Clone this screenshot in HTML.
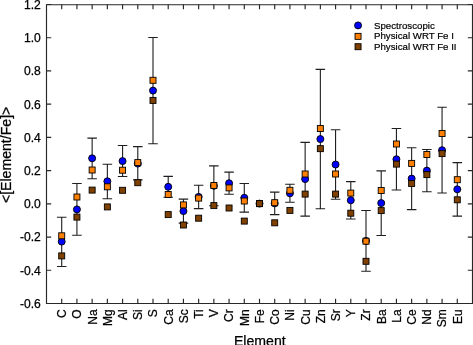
<!DOCTYPE html>
<html><head><meta charset="utf-8"><style>
html,body{margin:0;padding:0;background:#fff;}
body{width:473px;height:345px;overflow:hidden;font-family:"Liberation Sans", sans-serif;}
svg{display:block;will-change:transform;}
text{stroke:#000;stroke-width:0.25;}
.lg text{stroke-width:0.2;}
</style></head><body>
<svg width="473" height="345" viewBox="0 0 473 345">
<rect width="473" height="345" fill="#fff"/>
<g stroke="#1e1e1e" stroke-width="1.1" fill="none">
<path d="M61.71 217.30V266.50M56.96 217.30H66.46M56.96 266.50H66.46"/>
<path d="M76.93 183.50V235.20M72.18 183.50H81.68M72.18 235.20H81.68"/>
<path d="M92.14 138.10V178.70M87.39 138.10H96.89M87.39 178.70H96.89"/>
<path d="M107.36 164.20V198.70M102.61 164.20H112.11M102.61 198.70H112.11"/>
<path d="M122.57 145.50V176.50M117.82 145.50H127.32M117.82 176.50H127.32"/>
<path d="M137.79 146.60V179.90M133.04 146.60H142.54M133.04 179.90H142.54"/>
<path d="M153.00 37.50V143.80M148.25 37.50H157.75M148.25 143.80H157.75"/>
<path d="M168.21 176.40V197.20M163.46 176.40H172.96M163.46 197.20H172.96"/>
<path d="M183.43 199.10V223.10M178.68 199.10H188.18M178.68 223.10H188.18"/>
<path d="M198.64 185.20V208.60M193.89 185.20H203.39M193.89 208.60H203.39"/>
<path d="M213.86 165.90V205.70M209.11 165.90H218.61M209.11 205.70H218.61"/>
<path d="M229.07 172.10V194.30M224.32 172.10H233.82M224.32 194.30H233.82"/>
<path d="M244.29 183.50V212.10M239.54 183.50H249.04M239.54 212.10H249.04"/>
<path d="M274.71 192.10V214.60M269.96 192.10H279.46M269.96 214.60H279.46"/>
<path d="M289.93 184.30V202.30M285.18 184.30H294.68M285.18 202.30H294.68"/>
<path d="M305.14 142.40V216.10M300.39 142.40H309.89M300.39 216.10H309.89"/>
<path d="M320.36 69.40V208.70M315.61 69.40H325.11M315.61 208.70H325.11"/>
<path d="M335.57 129.80V199.20M330.82 129.80H340.32M330.82 199.20H340.32"/>
<path d="M350.79 181.60V219.00M346.04 181.60H355.54M346.04 219.00H355.54"/>
<path d="M366.00 210.50V271.30M361.25 210.50H370.75M361.25 271.30H370.75"/>
<path d="M381.21 170.90V235.50M376.46 170.90H385.96M376.46 235.50H385.96"/>
<path d="M396.43 128.50V190.00M391.68 128.50H401.18M391.68 190.00H401.18"/>
<path d="M411.64 147.70V209.60M406.89 147.70H416.39M406.89 209.60H416.39"/>
<path d="M426.86 149.50V191.75M422.11 149.50H431.61M422.11 191.75H431.61"/>
<path d="M442.07 107.30V193.00M437.32 107.30H446.82M437.32 193.00H446.82"/>
<path d="M457.29 162.60V216.10M452.54 162.60H462.04M452.54 216.10H462.04"/>
</g>
<g stroke="#000" stroke-width="0.9">
<circle cx="61.71" cy="241.60" r="3.5" fill="#0000ff"/>
<circle cx="76.93" cy="209.40" r="3.5" fill="#0000ff"/>
<circle cx="92.14" cy="158.30" r="3.5" fill="#0000ff"/>
<circle cx="107.36" cy="181.30" r="3.5" fill="#0000ff"/>
<circle cx="122.57" cy="161.10" r="3.5" fill="#0000ff"/>
<circle cx="137.79" cy="163.60" r="3.5" fill="#0000ff"/>
<circle cx="153.00" cy="90.60" r="3.5" fill="#0000ff"/>
<circle cx="168.21" cy="186.80" r="3.5" fill="#0000ff"/>
<circle cx="183.43" cy="211.10" r="3.5" fill="#0000ff"/>
<circle cx="198.64" cy="196.90" r="3.5" fill="#0000ff"/>
<circle cx="213.86" cy="185.80" r="3.5" fill="#0000ff"/>
<circle cx="229.07" cy="183.20" r="3.5" fill="#0000ff"/>
<circle cx="244.29" cy="197.80" r="3.5" fill="#0000ff"/>
<circle cx="259.50" cy="203.60" r="3.5" fill="#0000ff"/>
<circle cx="274.71" cy="203.35" r="3.5" fill="#0000ff"/>
<circle cx="289.93" cy="193.30" r="3.5" fill="#0000ff"/>
<circle cx="305.14" cy="179.10" r="3.5" fill="#0000ff"/>
<circle cx="320.36" cy="139.05" r="3.5" fill="#0000ff"/>
<circle cx="335.57" cy="164.50" r="3.5" fill="#0000ff"/>
<circle cx="350.79" cy="200.30" r="3.5" fill="#0000ff"/>
<circle cx="366.00" cy="240.90" r="3.5" fill="#0000ff"/>
<circle cx="381.21" cy="203.10" r="3.5" fill="#0000ff"/>
<circle cx="396.43" cy="159.25" r="3.5" fill="#0000ff"/>
<circle cx="411.64" cy="178.60" r="3.5" fill="#0000ff"/>
<circle cx="426.86" cy="170.60" r="3.5" fill="#0000ff"/>
<circle cx="442.07" cy="150.20" r="3.5" fill="#0000ff"/>
<circle cx="457.29" cy="189.30" r="3.5" fill="#0000ff"/>
<rect x="58.71" y="232.80" width="6.0" height="6.0" fill="#ff8000"/>
<rect x="73.93" y="194.00" width="6.0" height="6.0" fill="#ff8000"/>
<rect x="89.14" y="167.00" width="6.0" height="6.0" fill="#ff8000"/>
<rect x="104.36" y="183.80" width="6.0" height="6.0" fill="#ff8000"/>
<rect x="119.57" y="167.20" width="6.0" height="6.0" fill="#ff8000"/>
<rect x="134.79" y="159.60" width="6.0" height="6.0" fill="#ff8000"/>
<rect x="150.00" y="77.30" width="6.0" height="6.0" fill="#ff8000"/>
<rect x="165.21" y="191.50" width="6.0" height="6.0" fill="#ff8000"/>
<rect x="180.43" y="201.90" width="6.0" height="6.0" fill="#ff8000"/>
<rect x="195.64" y="195.10" width="6.0" height="6.0" fill="#ff8000"/>
<rect x="210.86" y="182.50" width="6.0" height="6.0" fill="#ff8000"/>
<rect x="226.07" y="184.90" width="6.0" height="6.0" fill="#ff8000"/>
<rect x="241.29" y="198.00" width="6.0" height="6.0" fill="#ff8000"/>
<rect x="256.50" y="200.60" width="6.0" height="6.0" fill="#ff8000"/>
<rect x="271.71" y="199.70" width="6.0" height="6.0" fill="#ff8000"/>
<rect x="286.93" y="187.30" width="6.0" height="6.0" fill="#ff8000"/>
<rect x="302.14" y="171.00" width="6.0" height="6.0" fill="#ff8000"/>
<rect x="317.36" y="125.55" width="6.0" height="6.0" fill="#ff8000"/>
<rect x="332.57" y="171.00" width="6.0" height="6.0" fill="#ff8000"/>
<rect x="347.79" y="190.10" width="6.0" height="6.0" fill="#ff8000"/>
<rect x="363.00" y="238.20" width="6.0" height="6.0" fill="#ff8000"/>
<rect x="378.21" y="187.50" width="6.0" height="6.0" fill="#ff8000"/>
<rect x="393.43" y="141.00" width="6.0" height="6.0" fill="#ff8000"/>
<rect x="408.64" y="160.40" width="6.0" height="6.0" fill="#ff8000"/>
<rect x="423.86" y="151.50" width="6.0" height="6.0" fill="#ff8000"/>
<rect x="439.07" y="130.50" width="6.0" height="6.0" fill="#ff8000"/>
<rect x="454.29" y="176.70" width="6.0" height="6.0" fill="#ff8000"/>
<rect x="58.71" y="252.90" width="6.0" height="6.0" fill="#804000"/>
<rect x="73.93" y="214.10" width="6.0" height="6.0" fill="#804000"/>
<rect x="89.14" y="187.10" width="6.0" height="6.0" fill="#804000"/>
<rect x="104.36" y="203.90" width="6.0" height="6.0" fill="#804000"/>
<rect x="119.57" y="187.30" width="6.0" height="6.0" fill="#804000"/>
<rect x="134.79" y="179.70" width="6.0" height="6.0" fill="#804000"/>
<rect x="150.00" y="97.40" width="6.0" height="6.0" fill="#804000"/>
<rect x="165.21" y="211.60" width="6.0" height="6.0" fill="#804000"/>
<rect x="180.43" y="222.00" width="6.0" height="6.0" fill="#804000"/>
<rect x="195.64" y="215.20" width="6.0" height="6.0" fill="#804000"/>
<rect x="210.86" y="202.60" width="6.0" height="6.0" fill="#804000"/>
<rect x="226.07" y="205.00" width="6.0" height="6.0" fill="#804000"/>
<rect x="241.29" y="218.10" width="6.0" height="6.0" fill="#804000"/>
<rect x="256.50" y="200.60" width="6.0" height="6.0" fill="#804000"/>
<rect x="271.71" y="219.80" width="6.0" height="6.0" fill="#804000"/>
<rect x="286.93" y="207.40" width="6.0" height="6.0" fill="#804000"/>
<rect x="302.14" y="191.10" width="6.0" height="6.0" fill="#804000"/>
<rect x="317.36" y="145.65" width="6.0" height="6.0" fill="#804000"/>
<rect x="332.57" y="191.10" width="6.0" height="6.0" fill="#804000"/>
<rect x="347.79" y="210.20" width="6.0" height="6.0" fill="#804000"/>
<rect x="363.00" y="258.30" width="6.0" height="6.0" fill="#804000"/>
<rect x="378.21" y="207.60" width="6.0" height="6.0" fill="#804000"/>
<rect x="393.43" y="161.10" width="6.0" height="6.0" fill="#804000"/>
<rect x="408.64" y="180.50" width="6.0" height="6.0" fill="#804000"/>
<rect x="423.86" y="171.60" width="6.0" height="6.0" fill="#804000"/>
<rect x="439.07" y="150.60" width="6.0" height="6.0" fill="#804000"/>
<rect x="454.29" y="196.80" width="6.0" height="6.0" fill="#804000"/>
</g>
<g stroke="#282828" stroke-width="1.15" fill="none">
<path d="M46.5 4.7V303.5H472.5V4.7Z"/>
<path d="M46.5 4.50h4.7M472.5 4.50h-4.7M46.5 37.72h4.7M472.5 37.72h-4.7M46.5 70.94h4.7M472.5 70.94h-4.7M46.5 104.17h4.7M472.5 104.17h-4.7M46.5 137.39h4.7M472.5 137.39h-4.7M46.5 170.61h4.7M472.5 170.61h-4.7M46.5 203.83h4.7M472.5 203.83h-4.7M46.5 237.06h4.7M472.5 237.06h-4.7M46.5 270.28h4.7M472.5 270.28h-4.7M46.5 303.50h4.7M472.5 303.50h-4.7M61.71 303.5v-4.7M61.71 4.5v4.7M76.93 303.5v-4.7M76.93 4.5v4.7M92.14 303.5v-4.7M92.14 4.5v4.7M107.36 303.5v-4.7M107.36 4.5v4.7M122.57 303.5v-4.7M122.57 4.5v4.7M137.79 303.5v-4.7M137.79 4.5v4.7M153.00 303.5v-4.7M153.00 4.5v4.7M168.21 303.5v-4.7M168.21 4.5v4.7M183.43 303.5v-4.7M183.43 4.5v4.7M198.64 303.5v-4.7M198.64 4.5v4.7M213.86 303.5v-4.7M213.86 4.5v4.7M229.07 303.5v-4.7M229.07 4.5v4.7M244.29 303.5v-4.7M244.29 4.5v4.7M259.50 303.5v-4.7M259.50 4.5v4.7M274.71 303.5v-4.7M274.71 4.5v4.7M289.93 303.5v-4.7M289.93 4.5v4.7M305.14 303.5v-4.7M305.14 4.5v4.7M320.36 303.5v-4.7M320.36 4.5v4.7M335.57 303.5v-4.7M335.57 4.5v4.7M350.79 303.5v-4.7M350.79 4.5v4.7M366.00 303.5v-4.7M366.00 4.5v4.7M381.21 303.5v-4.7M381.21 4.5v4.7M396.43 303.5v-4.7M396.43 4.5v4.7M411.64 303.5v-4.7M411.64 4.5v4.7M426.86 303.5v-4.7M426.86 4.5v4.7M442.07 303.5v-4.7M442.07 4.5v4.7M457.29 303.5v-4.7M457.29 4.5v4.7"/>
</g>
<g font-family='"Liberation Sans", sans-serif' font-size="12.1" fill="#000" text-anchor="end">
<text x="40.8" y="8.83">1.2</text>
<text x="40.8" y="42.05">1.0</text>
<text x="40.8" y="75.28">0.8</text>
<text x="40.8" y="108.50">0.6</text>
<text x="40.8" y="141.72">0.4</text>
<text x="40.8" y="174.94">0.2</text>
<text x="40.8" y="208.17">0.0</text>
<text x="40.8" y="241.39">-0.2</text>
<text x="40.8" y="274.61">-0.4</text>
<text x="40.8" y="307.83">-0.6</text>
</g>
<g font-family='"Liberation Sans", sans-serif' font-size="12.0" fill="#000" text-anchor="end">
<text transform="translate(66.09 309.3) rotate(-90)">C</text>
<text transform="translate(81.30 309.3) rotate(-90)">O</text>
<text transform="translate(96.52 309.3) rotate(-90)">Na</text>
<text transform="translate(111.73 309.3) rotate(-90)">Mg</text>
<text transform="translate(126.95 309.3) rotate(-90)">Al</text>
<text transform="translate(142.16 309.3) rotate(-90)">Si</text>
<text transform="translate(157.37 309.3) rotate(-90)">S</text>
<text transform="translate(172.59 309.3) rotate(-90)">Ca</text>
<text transform="translate(187.80 309.3) rotate(-90)">Sc</text>
<text transform="translate(203.02 309.3) rotate(-90)">Ti</text>
<text transform="translate(218.23 309.3) rotate(-90)">V</text>
<text transform="translate(233.45 309.3) rotate(-90)">Cr</text>
<text transform="translate(248.66 309.3) rotate(-90)">Mn</text>
<text transform="translate(263.87 309.3) rotate(-90)">Fe</text>
<text transform="translate(279.09 309.3) rotate(-90)">Co</text>
<text transform="translate(294.30 309.3) rotate(-90)">Ni</text>
<text transform="translate(309.52 309.3) rotate(-90)">Cu</text>
<text transform="translate(324.73 309.3) rotate(-90)">Zn</text>
<text transform="translate(339.95 309.3) rotate(-90)">Sr</text>
<text transform="translate(355.16 309.3) rotate(-90)">Y</text>
<text transform="translate(370.37 309.3) rotate(-90)">Zr</text>
<text transform="translate(385.59 309.3) rotate(-90)">Ba</text>
<text transform="translate(400.80 309.3) rotate(-90)">La</text>
<text transform="translate(416.02 309.3) rotate(-90)">Ce</text>
<text transform="translate(431.23 309.3) rotate(-90)">Nd</text>
<text transform="translate(446.45 309.3) rotate(-90)">Sm</text>
<text transform="translate(461.66 309.3) rotate(-90)">Eu</text>
</g>
<text font-family='"Liberation Sans", sans-serif' font-size="14.1" text-anchor="middle" x="259.80" y="345.78">Element</text>
<text font-family='"Liberation Sans", sans-serif' font-size="14.1" text-anchor="middle" transform="translate(10.5 154.90) rotate(-90)">&lt;[Element/Fe]&gt;</text>
<g stroke="#000" stroke-width="0.9">
<circle cx="358.05" cy="25.4" r="3.5" fill="#0000ff"/>
<rect x="355.05" y="33.35" width="6.0" height="6.0" fill="#ff8000"/>
<rect x="355.05" y="43.70" width="6.0" height="6.0" fill="#804000"/>
</g>
<g font-family='"Liberation Sans", sans-serif' font-size="9.7" fill="#000" class="lg">
<text transform="translate(374.0 28.5) scale(1 1.02)">Spectroscopic</text>
<text transform="translate(374.0 39.1) scale(1 1.02)">Physical WRT Fe I</text>
<text transform="translate(374.0 49.7) scale(1 1.02)">Physical WRT Fe II</text>
</g>
</svg>
</body></html>
